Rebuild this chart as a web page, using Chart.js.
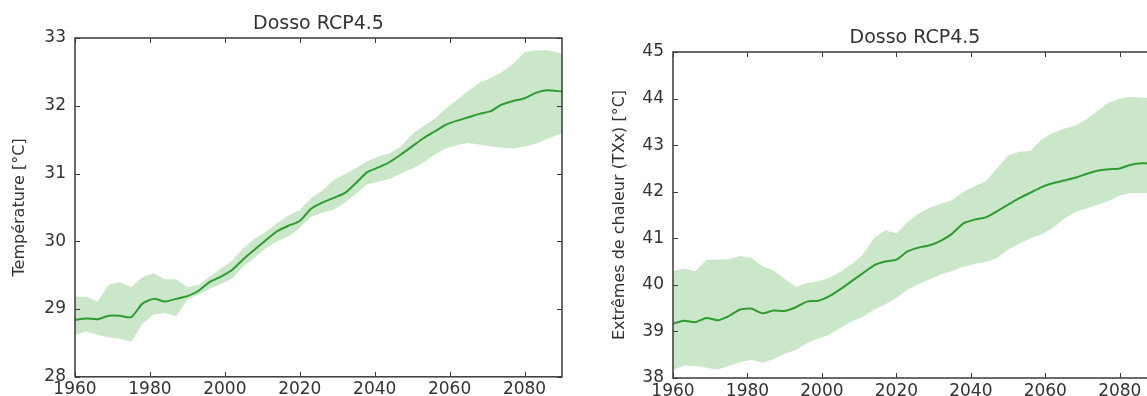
<!DOCTYPE html>
<html>
<head>
<meta charset="utf-8">
<script src="https://cdn.jsdelivr.net/npm/chart.js@4.4.1/dist/chart.umd.min.js"></script>
<style>
  html, body { margin: 0; padding: 0; background: #fff; }
  body { width: 1147px; height: 396px; overflow: hidden; position: relative; }
  #tempChart { position: absolute; left: 0; top: 0; }
  #txxChart { position: absolute; left: 600px; top: 14px; }
</style>
</head>
<body>
<canvas id="tempChart" width="570" height="396"></canvas>
<canvas id="txxChart" width="565" height="384"></canvas>
<script>
var years = [1960, 1963, 1966, 1969, 1972, 1975, 1978, 1981, 1984, 1987, 1990, 1993, 1996, 1999,
  2002, 2005, 2008, 2011, 2014, 2017, 2020, 2023, 2026, 2029, 2032, 2035, 2038, 2041, 2044,
  2047, 2050, 2053, 2056, 2059, 2062, 2065, 2068, 2071, 2074, 2077, 2080, 2083, 2086, 2090];

// température moyenne (gauche)
var tempMean = [28.84, 28.86, 28.85, 28.90, 28.90, 28.88, 29.08, 29.15, 29.11, 29.15, 29.19, 29.27, 29.40, 29.48,
  29.58, 29.74, 29.88, 30.02, 30.15, 30.23, 30.30, 30.48, 30.57, 30.64, 30.71, 30.86, 31.02, 31.09, 31.17,
  31.28, 31.40, 31.52, 31.62, 31.72, 31.78, 31.83, 31.88, 31.92, 32.02, 32.07, 32.11, 32.19, 32.23, 32.21];
var tempHigh = [29.18, 29.18, 29.11, 29.36, 29.40, 29.32, 29.47, 29.53, 29.44, 29.44, 29.32, 29.36, 29.48, 29.60,
  29.72, 29.90, 30.04, 30.14, 30.27, 30.38, 30.46, 30.64, 30.75, 30.90, 30.99, 31.08, 31.18, 31.25, 31.30,
  31.40, 31.58, 31.70, 31.81, 31.96, 32.09, 32.22, 32.34, 32.41, 32.50, 32.62, 32.79, 32.82, 32.82, 32.77];
var tempLow = [28.62, 28.67, 28.62, 28.58, 28.56, 28.52, 28.78, 28.92, 28.94, 28.89, 29.14, 29.21, 29.30, 29.37,
  29.45, 29.63, 29.76, 29.90, 30.00, 30.07, 30.20, 30.36, 30.42, 30.46, 30.57, 30.70, 30.84, 30.88, 30.92,
  31.00, 31.07, 31.16, 31.28, 31.37, 31.42, 31.45, 31.43, 31.40, 31.38, 31.37, 31.40, 31.44, 31.51, 31.59];

// extrêmes de chaleur TXx (droite)
var txxMean = [39.17, 39.23, 39.20, 39.29, 39.24, 39.33, 39.47, 39.49, 39.39, 39.45, 39.44, 39.52, 39.64, 39.66,
  39.76, 39.91, 40.08, 40.25, 40.42, 40.50, 40.54, 40.72, 40.80, 40.85, 40.95, 41.10, 41.32, 41.40, 41.45,
  41.58, 41.72, 41.86, 41.98, 42.10, 42.18, 42.24, 42.30, 42.38, 42.45, 42.48, 42.50, 42.58, 42.61, 42.60];
var txxHigh = [40.30, 40.35, 40.29, 40.54, 40.54, 40.55, 40.62, 40.58, 40.40, 40.31, 40.13, 39.96, 40.04, 40.07,
  40.15, 40.28, 40.45, 40.65, 41.00, 41.17, 41.11, 41.35, 41.53, 41.66, 41.74, 41.82, 42.00, 42.12, 42.22,
  42.50, 42.78, 42.86, 42.88, 43.12, 43.26, 43.35, 43.42, 43.55, 43.74, 43.91, 44.00, 44.04, 44.02, 44.00];
var txxLow = [38.17, 38.27, 38.26, 38.22, 38.18, 38.26, 38.34, 38.39, 38.33, 38.40, 38.52, 38.60, 38.75, 38.85,
  38.93, 39.08, 39.22, 39.31, 39.47, 39.58, 39.72, 39.90, 40.02, 40.12, 40.22, 40.30, 40.39, 40.45, 40.49,
  40.57, 40.76, 40.88, 41.00, 41.08, 41.22, 41.42, 41.56, 41.64, 41.72, 41.80, 41.92, 41.97, 41.97, 41.98];

var xTicks = [1960, 1980, 2000, 2020, 2040, 2060, 2080];
var tempTicks = [28, 29, 30, 31, 32, 33];
var txxTicks = [38, 39, 40, 41, 42, 43, 44, 45];

(function(){
  var fontFam = '"DejaVu Sans", sans-serif';
  var textColor = '#333';
  var frameColor = '#3a3a3a';
  var lineColor = '#2e9a2e';
  var bandColor = 'rgba(44, 160, 44, 0.25)';

  Chart.defaults.font.family = fontFam;

  function points (arr){
    return years.map(function(yr, i){ return { x: yr, y: arr[i] }; });
  }

  function makeChart (id, title, yLabel, mean, low, high, yTicks, axisW, axisH){
    // cadre, graduations vers l'intérieur et titre centré sur la zone du graphe
    var framePlugin = {
      id: 'frame',
      afterDraw: function(chart){
        var a = chart.chartArea, ctx = chart.ctx;
        var sx = chart.scales.x, sy = chart.scales.y;
        ctx.save();
        ctx.strokeStyle = frameColor;
        ctx.lineWidth = 1;
        ctx.beginPath();
        sx.ticks.forEach(function(t){
          var px = Math.round(sx.getPixelForValue(t.value)) + 0.5;
          ctx.moveTo(px, a.bottom); ctx.lineTo(px, a.bottom - 5);
          ctx.moveTo(px, a.top); ctx.lineTo(px, a.top + 5);
        });
        sy.ticks.forEach(function(t){
          var py = Math.round(sy.getPixelForValue(t.value)) + 0.5;
          ctx.moveTo(a.left, py); ctx.lineTo(a.left + 5, py);
          ctx.moveTo(a.right, py); ctx.lineTo(a.right - 5, py);
        });
        ctx.stroke();
        ctx.lineWidth = 1.5;
        ctx.strokeRect(a.left, a.top, a.right - a.left, a.bottom - a.top);
        ctx.fillStyle = textColor;
        ctx.font = '19px ' + fontFam;
        ctx.textAlign = 'center';
        ctx.textBaseline = 'middle';
        ctx.fillText(title, (a.left + a.right) / 2, a.top - 14);
        ctx.restore();
      }
    };

    var ctx = document.getElementById(id).getContext('2d');
    return new Chart(ctx, {
      type: 'line',
      data: {
        datasets: [{
          data: points(low),
          borderWidth: 0,
          pointRadius: 0,
          fill: false
        }, {
          data: points(high),
          borderWidth: 0,
          pointRadius: 0,
          backgroundColor: bandColor,
          fill: '-1'
        }, {
          data: points(mean),
          borderColor: lineColor,
          borderWidth: 2,
          pointRadius: 0,
          tension: 0.2,
          fill: false
        }]
      },
      options: {
        responsive: false,
        animation: false,
        devicePixelRatio: 1,
        layout: { padding: { top: 38, right: 8, left: 0, bottom: 0 } },
        plugins: { legend: { display: false }, tooltip: { enabled: false } },
        scales: {
          x: {
            type: 'linear',
            min: 1960,
            max: 2090,
            afterBuildTicks: function(s){ s.ticks = xTicks.map(function(v){ return { value: v }; }); },
            afterFit: function(s){ s.height = axisH; },
            grid: { display: false, drawTicks: false },
            border: { display: false },
            ticks: {
              color: textColor,
              font: { size: 17 },
              padding: 3,
              maxRotation: 0,
              autoSkip: false,
              callback: function(v){ return String(v); }
            }
          },
          y: {
            min: yTicks[0],
            max: yTicks[yTicks.length - 1],
            afterBuildTicks: function(s){ s.ticks = yTicks.map(function(v){ return { value: v }; }); },
            afterFit: function(s){ s.width = axisW; },
            grid: { display: false, drawTicks: false },
            border: { display: false },
            ticks: {
              color: textColor,
              font: { size: 17 },
              padding: 9,
              callback: function(v){ return String(v); }
            },
            title: {
              display: true,
              text: yLabel,
              color: textColor,
              font: { size: 16 },
              padding: { top: 10, bottom: 0 }
            }
          }
        }
      },
      plugins: [framePlugin]
    });
  }

  makeChart('tempChart', 'Dosso RCP4.5', 'Température [°C]', tempMean, tempLow, tempHigh, tempTicks, 75, 19);
  makeChart('txxChart', 'Dosso RCP4.5', 'Extrêmes de chaleur (TXx) [°C]', txxMean, txxLow, txxHigh, txxTicks, 73, 20);
})();
</script>
</body>
</html>
